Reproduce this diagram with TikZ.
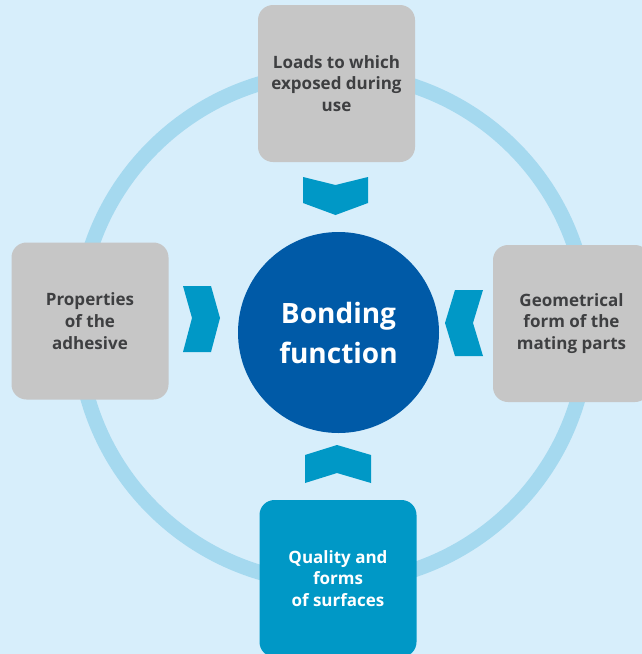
\documentclass[tikz,border=0pt]{standalone}
\usepackage{fontspec}
\setmainfont{Open Sans}
\definecolor{bgblue}{HTML}{D7EEFB}
\definecolor{ringblue}{HTML}{A5D9EF}
\definecolor{darkblue}{HTML}{005AA7}
\definecolor{midblue}{HTML}{0098C6}
\definecolor{boxgrey}{HTML}{C6C6C6}
\definecolor{txtgrey}{HTML}{3E3F41}
\begin{document}
\begin{tikzpicture}[x=1pt,y=-1pt,
  box/.style={rounded corners=15pt, minimum width=157pt, minimum height=157pt,
    inner sep=0pt, align=center, font=\bfseries\fontsize{17}{21.7}\selectfont},
  greybox/.style={box, fill=boxgrey, text=txtgrey},
  bluebox/.style={box, fill=midblue, text=white},
  chev/.style={fill=midblue, draw=none}]
\useasboundingbox (0,0) rectangle (642,654);
\clip (0,0) rectangle (642,654);
\fill[bgblue] (0,0) rectangle (642,654);
\draw[ringblue, line width=15pt] (333,328) circle[radius=255];
\node[circle, fill=darkblue, minimum size=201pt, inner sep=0pt, text=white,
  align=center, font=\bfseries\fontsize{28}{40}\selectfont] (core) at (338.5,332.5) {Bonding\\function};
\node[greybox] (top) at (336.5,83.5) {Loads to which\\exposed during\\use};
\node[greybox] (left) at (90,321) {Properties\\of the\\adhesive};
\node[greybox] (right) at (571.5,323.5) {Geometrical\\form of the\\mating parts};
\node[bluebox] (bottom) at (338,578.5) {Quality and\\forms\\of surfaces};
% chevrons
\fill[chev] (303,177) -- (335.5,185) -- (368,177) -- (368,203) -- (335.5,215) -- (303,203) -- cycle;
\fill[chev] (183,286) -- (211,286) -- (220,318) -- (211,352) -- (183,352) -- (192,318) -- cycle;
\fill[chev] (483,290) -- (455,290) -- (445,323) -- (455,356) -- (483,356) -- (473,323) -- cycle;
\fill[chev] (305,455) -- (337,445) -- (371,455) -- (371,483) -- (337,473) -- (305,483) -- cycle;
\end{tikzpicture}
\end{document}
